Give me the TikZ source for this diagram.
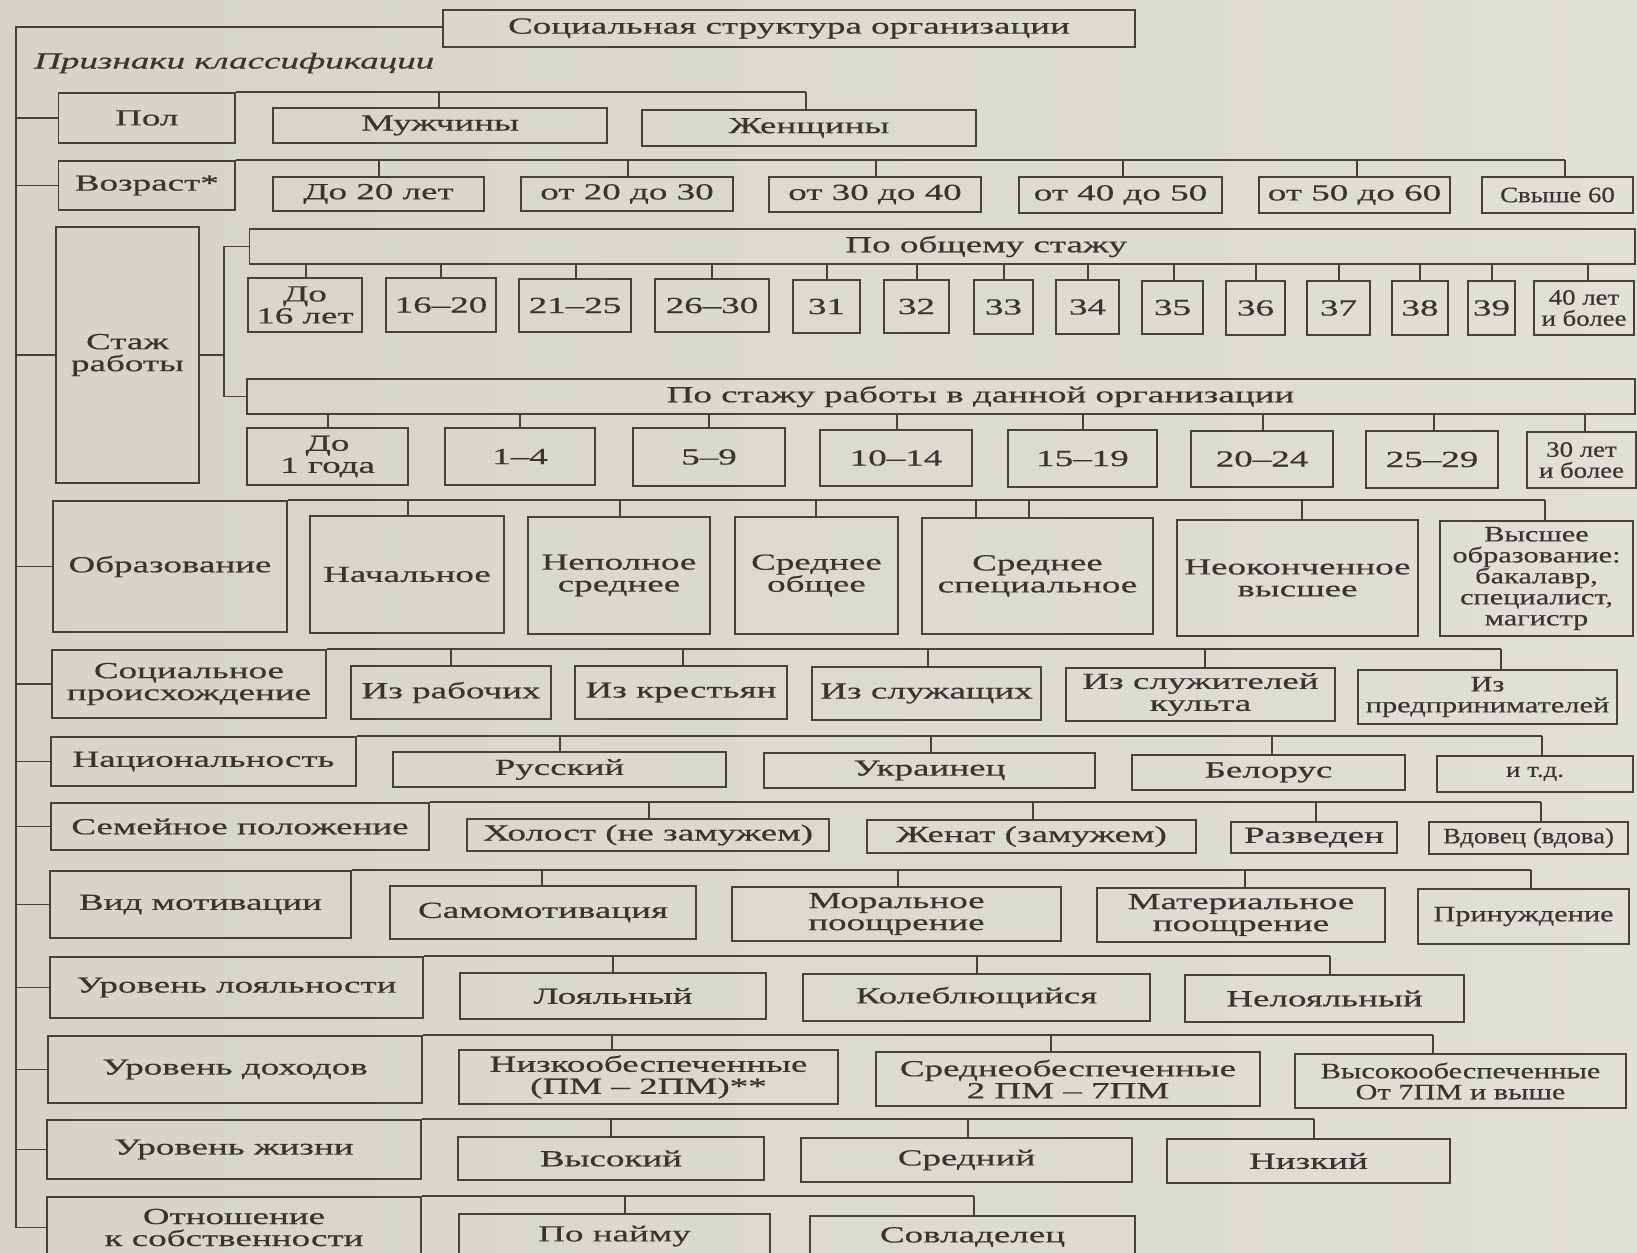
\documentclass[tikz,border=0pt]{standalone}
\usepackage{fontspec}
\setmainfont{Liberation Serif}[FakeStretch=1.61,FakeBold=0.5]
\newfontfamily\condA{Liberation Serif}[FakeStretch=1.22,FakeBold=0.4]
\newfontfamily\condB{Liberation Serif}[FakeStretch=1.38,FakeBold=0.4]
\definecolor{bgL}{HTML}{D6D4C9}
\definecolor{bgR}{HTML}{E0DFD8}
\definecolor{ink}{HTML}{47403B}
\definecolor{txt}{HTML}{3A3430}
\newcommand\mybox[7][]{%
  \pgfmathsetmacro\mbW{#5-#3}%
  \pgfmathsetmacro\mbH{#6-#4}%
  \pgfmathsetmacro\mbX{(#3+#5)/2}%
  \pgfmathsetmacro\mbY{(#4+#6)/2}%
  \node[box,minimum width=\mbW pt,minimum height=\mbH pt,#1] (#2) at (\mbX,\mbY) {#7};}
\newcommand\drop[3]{\draw[ln] (#3,0 |- #1.north) -- (#3,0 |- #2.north);}
\newcommand\dropS[3]{\draw[ln] (#3,0 |- #1.south) -- (#3,0 |- #2.north);}
\newcommand\bus[2]{\draw[ln] (#1.north east) -- (#2,0 |- #1.north);}
\newcommand\tospine[1]{\draw[ln] (#1.west) -- (#1.west -| sp);}
\begin{document}
\begin{tikzpicture}[x=1pt,y=-1pt,
  ln/.style={draw=ink,line width=1.7pt},
  box/.style={draw=ink,line width=1.7pt,inner sep=0pt,align=center,text=txt,
    font=\fontsize{23}{22}\selectfont},
  cA/.style={font=\condA\fontsize{22}{21}\selectfont},
  cB/.style={font=\condB\fontsize{22}{21}\selectfont}]
\useasboundingbox (0,0) rectangle (1637,1252);
\shade[left color=bgL,right color=bgR] (0,0) rectangle (1637,1252);
\clip (0,0) rectangle (1637,1252);

\coordinate (sp) at (16,27);
\mybox{title}{443}{10}{1135}{47}{Социальная структура организации}
\node[anchor=west,text=txt,font=\itshape\fontsize{23}{22}\selectfont,inner sep=0pt] (lab) at (34,63) {Признаки классификации};

% Pol
\mybox{pol}{58.6}{93}{235}{143}{Пол}
\mybox{m1}{273}{108}{607}{143}{Мужчины}
\mybox{m2}{642}{110}{976}{146}{Женщины}
% Vozrast
\mybox{voz}{58.6}{161}{235}{210}{Возраст*}
\mybox{a1}{273}{177}{484}{211}{До 20 лет}
\mybox{a2}{521}{177}{733}{211}{от 20 до 30}
\mybox{a3}{769}{177}{981}{212}{от 30 до 40}
\mybox{a4}{1019}{177}{1222}{213}{от 40 до 50}
\mybox{a5}{1259}{177}{1450}{213}{от 50 до 60}
\mybox[cA]{a6}{1482}{177}{1633}{213}{Свыше 60}
% Stazh
\mybox{staj}{56}{227}{199}{483}{Стаж\\работы}
\mybox{sub1}{249.5}{229}{1635}{264}{\hspace*{88pt}По общему стажу}
\mybox{sub2}{247}{379}{1635}{414}{\hspace*{79pt}По стажу работы в данной организации}
\mybox{g1}{248}{278}{362}{332}{До\\16 лет}
\mybox{g2}{386}{278}{496}{332}{16–20}
\mybox{g3}{519}{279}{631}{332}{21–25}
\mybox{g4}{655}{279}{769}{332}{26–30}
\mybox{g5}{793}{280}{860}{333}{31}
\mybox{g6}{884}{280}{949}{333}{32}
\mybox{g7}{974}{280}{1033}{334}{33}
\mybox{g8}{1056}{280}{1119}{334}{34}
\mybox{g9}{1142}{281}{1203}{334}{35}
\mybox{g10}{1226}{281}{1285}{335}{36}
\mybox{g11}{1307}{281}{1370}{335}{37}
\mybox{g12}{1392}{281}{1448}{335}{38}
\mybox{g13}{1468}{281}{1515}{335}{39}
\mybox[cA]{g14}{1534}{281}{1634}{335}{40 лет\\и более}
\mybox{h1}{247}{428}{408}{485}{До\\1 года}
\mybox{h2}{445}{428}{595}{485}{1–4}
\mybox{h3}{633}{428}{785}{486}{5–9}
\mybox{h4}{820}{430}{972}{486}{10–14}
\mybox{h5}{1008}{430}{1157}{487}{15–19}
\mybox{h6}{1191}{431}{1333}{487}{20–24}
\mybox{h7}{1366}{431}{1498}{488}{25–29}
\mybox[cA]{h8}{1527}{432}{1636}{488}{30 лет\\и более}
% Obrazovanie
\mybox{obr}{53}{501}{287}{632}{Образование}
\mybox{e1}{310}{516}{504}{633}{Начальное}
\mybox{e2}{528}{517}{710}{634}{Неполное\\среднее}
\mybox{e3}{735}{517}{898}{634}{Среднее\\общее}
\mybox{e4}{922}{518}{1153}{634}{Среднее\\специальное}
\mybox{e5}{1177}{520}{1418}{636}{Неоконченное\\высшее}
\mybox[cB]{e6}{1440}{521}{1633}{636}{Высшее\\образование:\\бакалавр,\\специалист,\\магистр}
% Soc
\mybox{soc}{52}{650}{326}{718}{Социальное\\происхождение}
\mybox{o1}{351}{666}{551}{719}{Из рабочих}
\mybox{o2}{575}{666}{787}{719}{Из крестьян}
\mybox{o3}{812}{667}{1041}{720}{Из служащих}
\mybox{o4}{1066}{668}{1335}{721}{Из служителей\\культа}
\mybox[cB]{o5}{1358}{670}{1617}{724}{Из\\предпринимателей}
% Nac
\mybox{nac}{51}{737}{356}{786}{Национальность}
\mybox{n1}{393}{752}{726}{787}{Русский}
\mybox{n2}{764}{753}{1095}{788}{Украинец}
\mybox{n3}{1132}{755}{1405}{790}{Белорус}
\mybox[cA]{n4}{1437}{756}{1633}{792}{и т.д.}
% Sem
\mybox{sem}{51}{803}{429}{850}{Семейное положение}
\mybox{f1}{467}{819}{829}{851}{Холост (не замужем)}
\mybox{f2}{867}{820}{1196}{853}{Женат (замужем)}
\mybox{f3}{1231}{822}{1397}{853}{Разведен}
\mybox[cA]{f4}{1429}{822}{1628}{854}{Вдовец (вдова)}
% Vid
\mybox{vid}{50}{871}{351}{938}{Вид мотивации}
\mybox{v1}{390}{886}{696}{939}{Самомотивация}
\mybox{v2}{732}{887}{1061}{941}{Моральное\\поощрение}
\mybox{v3}{1097}{888}{1385}{942}{Материальное\\поощрение}
\mybox[cB]{v4}{1418}{889}{1629}{944}{Принуждение}
% Loy
\mybox{loy}{50}{957}{423}{1018}{Уровень лояльности}
\mybox{l1}{460}{973}{766}{1019}{Лояльный}
\mybox{l2}{803}{974}{1150}{1021}{Колеблющийся}
\mybox{l3}{1185}{975}{1464}{1022}{Нелояльный}
% Doh
\mybox{doh}{48}{1036}{422}{1103}{Уровень доходов}
\mybox{d1}{459}{1050}{838}{1104}{Низкообеспеченные\\(ПМ – 2ПМ)**}
\mybox{d2}{876}{1052}{1260}{1106}{Среднеобеспеченные\\2 ПМ – 7ПМ}
\mybox[cB]{d3}{1295}{1054}{1626}{1108}{Высокообеспеченные\\От 7ПМ и выше}
% Zhi
\mybox{zhi}{47}{1120}{421}{1179}{Уровень жизни}
\mybox{z1}{458}{1137}{764}{1180}{Высокий}
\mybox{z2}{801}{1138}{1132}{1182}{Средний}
\mybox{z3}{1167}{1139}{1450}{1183}{Низкий}
% Otn
\mybox{otn}{47}{1197}{421}{1258}{Отношение\\к собственности}
\mybox{p1}{459}{1214}{770}{1258}{По найму}
\mybox{p2}{810}{1216}{1135}{1258}{Совладелец}

% spine
\draw[ln] (title.west |- sp) -- (sp) -- (sp |- otn.west) -- (otn.west);
\foreach \c in {pol,voz,staj,obr,soc,nac,sem,vid,loy,doh,zhi} {\tospine{\c}}

% buses and drops
\bus{pol}{806} \drop{pol}{m1}{439} \drop{pol}{m2}{806}
\bus{voz}{1565}
\drop{voz}{a1}{379} \drop{voz}{a2}{628} \drop{voz}{a3}{876}
\drop{voz}{a4}{1123} \drop{voz}{a5}{1357} \drop{voz}{a6}{1565}

\coordinate (sj) at (224,353);
\draw[ln] (staj.east) -- (staj.east -| sj);
\draw[ln] (sub1.west) -- (sj |- sub1.west) -- (sj |- sub2.west) -- (sub2.west);
\dropS{sub1}{g1}{306} \dropS{sub1}{g2}{441} \dropS{sub1}{g3}{576} \dropS{sub1}{g4}{712}
\dropS{sub1}{g5}{827} \dropS{sub1}{g6}{917} \dropS{sub1}{g7}{1004} \dropS{sub1}{g8}{1088}
\dropS{sub1}{g9}{1174} \dropS{sub1}{g10}{1256} \dropS{sub1}{g11}{1339} \dropS{sub1}{g12}{1420}
\dropS{sub1}{g13}{1492} \dropS{sub1}{g14}{1588}
\dropS{sub2}{h1}{328} \dropS{sub2}{h2}{520} \dropS{sub2}{h3}{709} \dropS{sub2}{h4}{897}
\dropS{sub2}{h5}{1083} \dropS{sub2}{h6}{1263} \dropS{sub2}{h7}{1434} \dropS{sub2}{h8}{1585}

\bus{obr}{1545}
\drop{obr}{e1}{408} \drop{obr}{e2}{620} \drop{obr}{e3}{816} \drop{obr}{e4}{976}
\drop{obr}{e4}{1029} \drop{obr}{e5}{1302} \drop{obr}{e6}{1545}

\bus{soc}{1501}
\drop{soc}{o1}{451} \drop{soc}{o2}{683} \drop{soc}{o3}{928} \drop{soc}{o4}{1205} \drop{soc}{o5}{1501}

\bus{nac}{1542}
\drop{nac}{n1}{560} \drop{nac}{n2}{931} \drop{nac}{n3}{1272} \drop{nac}{n4}{1542}

\bus{sem}{1541}
\drop{sem}{f1}{649} \drop{sem}{f2}{1033} \drop{sem}{f3}{1316} \drop{sem}{f4}{1541}

\bus{vid}{1531}
\drop{vid}{v1}{542} \drop{vid}{v2}{898} \drop{vid}{v3}{1245} \drop{vid}{v4}{1531}

\bus{loy}{1330}
\drop{loy}{l1}{613} \drop{loy}{l2}{977} \drop{loy}{l3}{1330}

\bus{doh}{1433}
\drop{doh}{d1}{612} \drop{doh}{d2}{1051} \drop{doh}{d3}{1433}

\bus{zhi}{1314}
\drop{zhi}{z1}{611} \drop{zhi}{z2}{968} \drop{zhi}{z3}{1314}

\bus{otn}{974}
\drop{otn}{p1}{625} \drop{otn}{p2}{974}
\end{tikzpicture}
\end{document}
